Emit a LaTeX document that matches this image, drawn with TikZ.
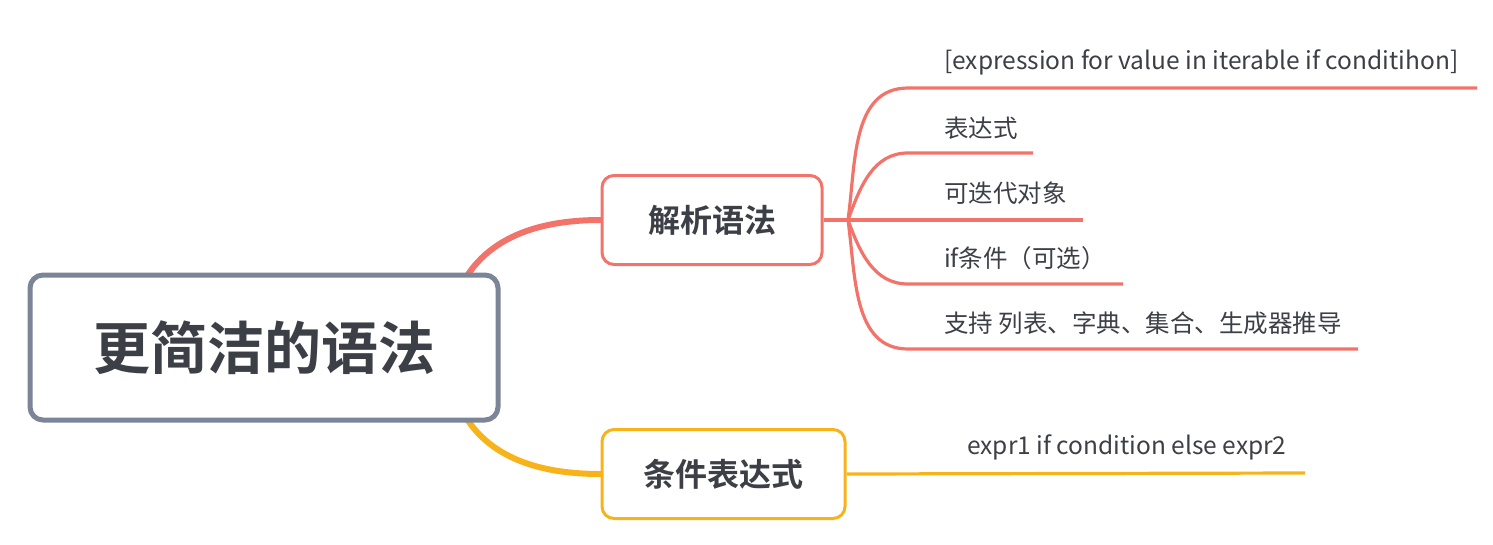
\documentclass[tikz,border=0pt]{standalone}
\usepackage{fontspec}
\setmainfont{Noto Sans CJK SC}[BoldFont={Noto Sans CJK SC Bold}]
\usetikzlibrary{backgrounds}

\definecolor{RootGray}{HTML}{7C8498}
\definecolor{MapRed}{HTML}{F2736A}
\definecolor{MapOrange}{HTML}{F8B31B}
\definecolor{MapText}{HTML}{3D3F47}

\tikzset{
	Root/.style={draw=RootGray, line width=5pt, rounded corners=13pt, fill=white,
		minimum width=468pt, minimum height=145pt, text=MapText,
		font=\fontsize{57}{60}\selectfont\bfseries},
	Branch/.style={line width=3pt, rounded corners=12pt, fill=white,
		minimum height=89pt, text=MapText,
		font=\fontsize{32}{34}\selectfont\bfseries},
	Leaf/.style={anchor=west, inner sep=0pt, text=MapText,
		font=\fontsize{24.5}{28}\selectfont},
	Trunk/.style={line width=6pt, line cap=round},
	Twig/.style={line width=3.2pt, draw=MapRed}
}

\begin{document}
\begin{tikzpicture}[x=1pt,y=-1pt]
\useasboundingbox (0,0) rectangle (1493,544);
%Knoten
\node[Root] (root) at (264,347.5) {更简洁的语法};
\node[Branch, draw=MapRed, minimum width=220pt] (b1) at (712,220) {解析语法};
\node[Branch, draw=MapOrange, minimum width=243pt] (b2) at (723.5,474) {条件表达式};

%Hauptaeste
\coordinate (r1) at (455,300);
\coordinate (r2) at (455,395);
\begin{scope}[on background layer]
\draw[Trunk, MapRed] (r1) to[out=70,in=180] (b1.west);
\draw[Trunk, MapOrange] (r2) to[out=-70,in=180] (b2.west);
\end{scope}

%Zweige
\coordinate (jn) at (848,220);
\draw[Twig] (b1.east) -- (jn);
\foreach \y/\e/\o [count=\i] in {88/1477/82, 153/1033/70, 220/1083/0, 284/1123/-70, 349/1358/-82}{
	\coordinate (e\i) at (\e,\y);
	\draw[Twig] (jn) to[out=\o,in=180] (908,\y) -- (e\i);
}
\coordinate (e6) at (1305,473);
\draw[line width=3.2pt, MapOrange] (b2.east) -- (e6);

%Texte
\node[Leaf] (l1) at (944,62) {[expression for value in iterable if conditihon]};
\node[Leaf] (l2) at (944,128) {表达式};
\node[Leaf] (l3) at (944,193) {可迭代对象};
\node[Leaf] (l4) at (944,258) {if条件（可选）};
\node[Leaf] (l5) at (944,323) {支持 列表、字典、集合、生成器推导};
\node[Leaf] (l6) at (967,447) {expr1 if condition else expr2};
\end{tikzpicture}
\end{document}
